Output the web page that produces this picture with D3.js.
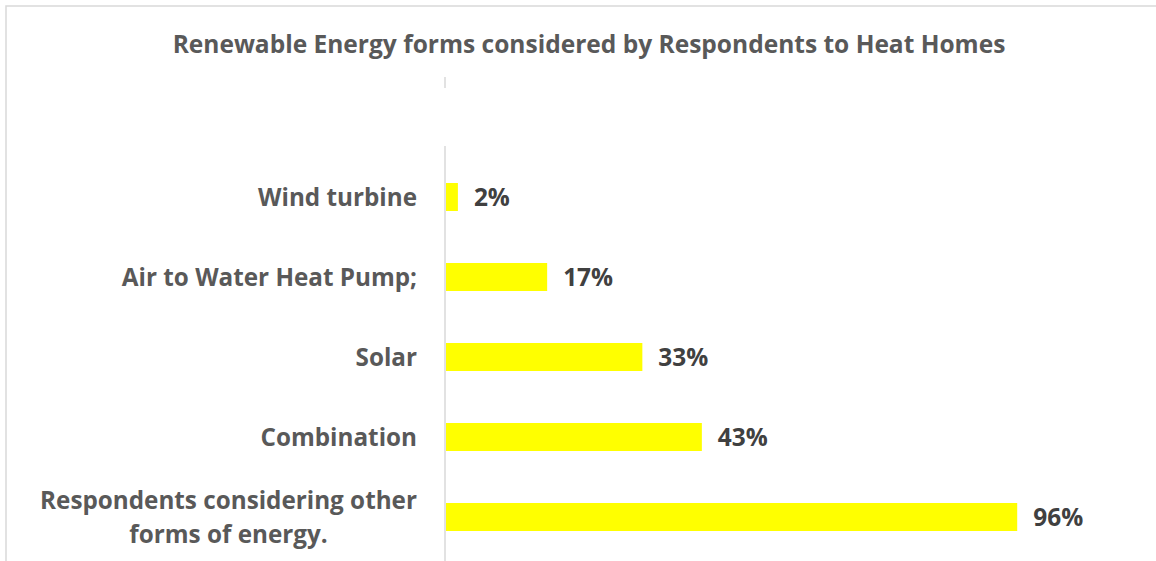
<!DOCTYPE html>
<html><head><meta charset="utf-8">
<script src="https://cdn.jsdelivr.net/npm/d3@7"></script>
<style>html,body{margin:0;padding:0;background:#fff;}svg{display:block;}</style>
</head><body>
<svg id="c" width="1156" height="561"></svg>
<script>
const title = "Renewable Energy forms considered by Respondents to Heat Homes";
const categories = ["Wind turbine", "Air to Water Heat Pump;", "Solar", "Combination", "Respondents considering other forms of energy."];
const labelLines = [["Wind turbine"], ["Air to Water Heat Pump;"], ["Solar"], ["Combination"], ["Respondents considering other", "forms of energy."]];
const values = [2, 17, 33, 43, 96];
const valueLabels = ["2%", "17%", "33%", "43%", "96%"];

const svg = d3.select("#c");
const FONT = "'Open Sans', sans-serif";

// frame
svg.append("path").attr("d", "M6,561 L6,6 L1160,6")
  .attr("fill", "none").attr("stroke", "#D9D9D9").attr("stroke-width", 1.5);

const x = d3.scaleLinear().domain([0, 100]).range([446, 446 + 595]);
const y = d3.scaleBand().domain(categories).range([157, 557]).paddingInner(0.65).paddingOuter(0.325);

function fit(sel, target) {
  const w = sel.node().getComputedTextLength();
  const fs = parseFloat(sel.attr("font-size"));
  return fs * target / w;
}

// title
const t = svg.append("text").attr("x", 589).attr("y", 53).attr("text-anchor", "middle")
  .attr("font-family", FONT).attr("font-weight", "bold").attr("font-size", 20)
  .attr("fill", "#595959").text(title);
t.attr("font-size", fit(t, 833));

// axis segments
svg.append("line").attr("x1", 445).attr("x2", 445).attr("y1", 77).attr("y2", 88)
  .attr("stroke", "#D9D9D9").attr("stroke-width", 1.5);
svg.append("line").attr("x1", 445).attr("x2", 445).attr("y1", 146).attr("y2", 561)
  .attr("stroke", "#D9D9D9").attr("stroke-width", 1.5);

// bars
svg.selectAll("rect.bar").data(values).join("rect").attr("class", "bar")
  .attr("x", x(0)).attr("y", (d, i) => y(categories[i]))
  .attr("width", d => x(d) - x(0)).attr("height", y.bandwidth())
  .attr("fill", "#FFFF00");

// category labels - size from longest line
const probe = svg.append("text").attr("font-family", FONT).attr("font-weight", "bold")
  .attr("font-size", 20).text("Respondents considering other");
const labelFs = fit(probe, 377);
probe.remove();

labelLines.forEach((lines, i) => {
  const cy = y(categories[i]) + y.bandwidth() / 2;
  if (lines.length === 1) {
    svg.append("text").attr("x", 417).attr("y", cy + labelFs * 0.36)
      .attr("text-anchor", "end").attr("font-family", FONT).attr("font-weight", "bold")
      .attr("font-size", labelFs).attr("fill", "#595959").text(lines[0]);
  } else {
    lines.forEach((ln, j) => {
      svg.append("text").attr("x", 228.5).attr("y", 509 + j * 34)
        .attr("text-anchor", "middle").attr("font-family", FONT).attr("font-weight", "bold")
        .attr("font-size", labelFs).attr("fill", "#595959").text(ln);
    });
  }
});

// value labels
const vprobe = svg.append("text").attr("font-family", FONT).attr("font-weight", "bold")
  .attr("font-size", 20).text("96%");
const valFs = fit(vprobe, 50);
vprobe.remove();

svg.selectAll("text.val").data(values).join("text").attr("class", "val")
  .attr("x", d => x(d) + 16)
  .attr("y", (d, i) => y(categories[i]) + y.bandwidth() / 2 + valFs * 0.36)
  .attr("font-family", FONT).attr("font-weight", "bold").attr("font-size", valFs)
  .attr("fill", "#404040").text((d, i) => valueLabels[i]);
</script>
</body></html>
